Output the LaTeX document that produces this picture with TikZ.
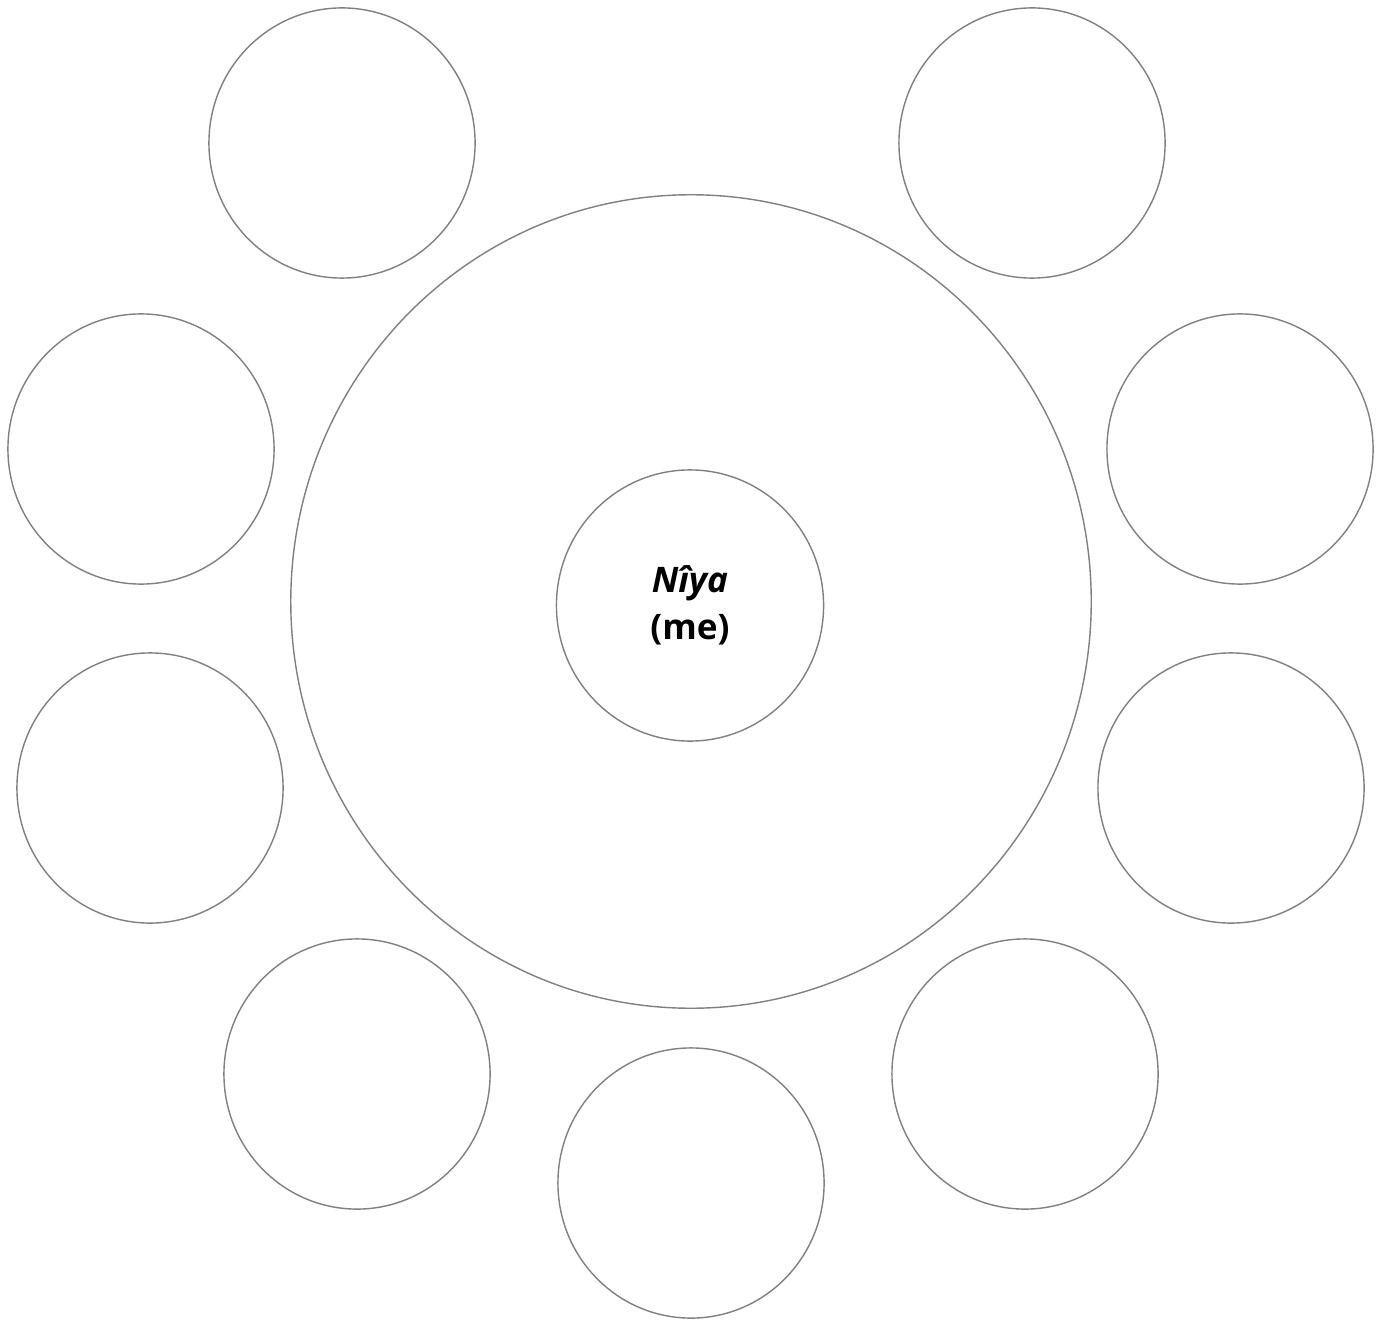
\documentclass[tikz,border=0pt]{standalone}
\usepackage{fontspec}
\setmainfont{Open Sans}
\usepackage{tikz}
\usetikzlibrary{calc}
\usetikzlibrary{shapes}

\begin{document}
\begin{tikzpicture}[x = 0.01cm, y = -0.01cm]

\tikzstyle{ring_big}=[ellipse, draw=gray, line width = 0.4pt, minimum width = 8cm, minimum height = 8.13cm, inner sep = 0pt]
\tikzstyle{ring_me}=[ellipse, draw=gray, line width = 0.4pt, minimum width = 2.67cm, minimum height = 2.71cm, inner sep = 0pt, align = center, font = \fontsize{10}{13.4}\selectfont\bfseries]
\tikzstyle{ring_p}=[ellipse, draw=gray, line width = 0.4pt, minimum width = 2.66cm, minimum height = 2.70cm, inner sep = 0pt]

\useasboundingbox (0, 0) rectangle (1383, 1319);

\coordinate (O) at (691, 601.5);
\coordinate (M) at (690, 605.5);
\coordinate (P1) at (342, 143);
\coordinate (P2) at (1032, 143);
\coordinate (P3) at (141, 449);
\coordinate (P4) at (1240, 449);
\coordinate (P5) at (150, 788);
\coordinate (P6) at (1231, 788);
\coordinate (P7) at (357, 1074);
\coordinate (P8) at (1025, 1074);
\coordinate (P9) at (691, 1183);

\path
(O) node[ring_big](outer) {}
(M) node[ring_me](me) {\textit{Nîya}\\(me)}
(P1) node[ring_p](p1) {}
(P2) node[ring_p](p2) {}
(P3) node[ring_p](p3) {}
(P4) node[ring_p](p4) {}
(P5) node[ring_p](p5) {}
(P6) node[ring_p](p6) {}
(P7) node[ring_p](p7) {}
(P8) node[ring_p](p8) {}
(P9) node[ring_p](p9) {};

\end{tikzpicture}
\end{document}
